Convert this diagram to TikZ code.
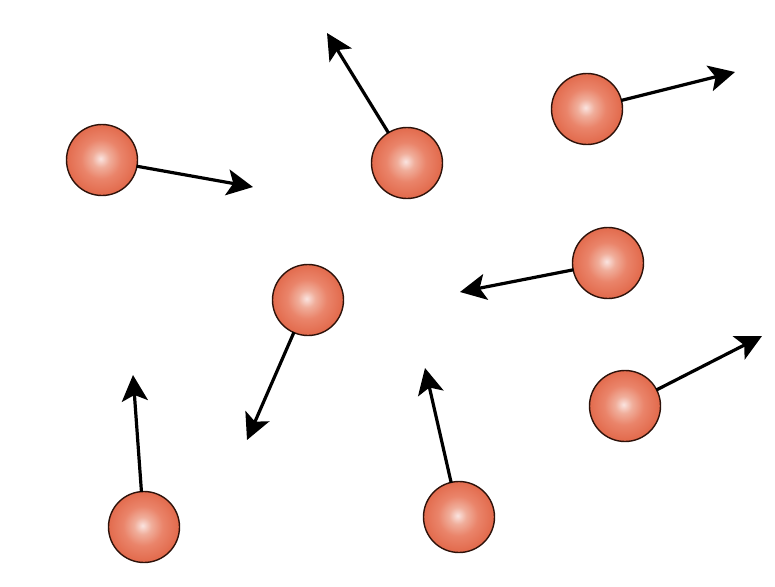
\documentclass[tikz,border=0pt]{standalone}
\usetikzlibrary{arrows.meta}
\definecolor{ballc0}{RGB}{250,228,224}
\definecolor{ballc1}{RGB}{240,174,155}
\definecolor{ballc2}{RGB}{234,132,106}
\definecolor{ballout}{RGB}{226,106,76}
\definecolor{balledge}{RGB}{45,18,10}
\pgfdeclareradialshading{myball}{\pgfpoint{-1bp}{1bp}}{color(0bp)=(ballc0); color(6bp)=(ballc1); color(14bp)=(ballc2); color(25bp)=(ballout); color(50bp)=(ballout)}
\tikzset{
  ball/.style={circle, draw=balledge, line width=1.4pt, minimum size=71pt, inner sep=0pt, shading=myball},
  vec/.style={draw=black, line width=3.2pt, -{Stealth[length=26pt, width=26pt, inset=6pt]}, shorten <=-1pt}
}
\begin{document}
\begin{tikzpicture}[x=1pt, y=-1pt]
\useasboundingbox (0,0) rectangle (775,586);
\node[ball] (b1) at (102,160) {};
\node[ball] (b2) at (407,163) {};
\node[ball] (b3) at (587,109) {};
\node[ball] (b4) at (608,263) {};
\node[ball] (b5) at (308,300) {};
\node[ball] (b6) at (625,406) {};
\node[ball] (b7) at (144,527) {};
\node[ball] (b8) at (459,517) {};
\coordinate (t1) at (253,187);
\coordinate (t2) at (327,33);
\coordinate (t3) at (735,72);
\coordinate (t4) at (460,292);
\coordinate (t5) at (247,440);
\coordinate (t6) at (762,336);
\coordinate (t7) at (133,375);
\coordinate (t8) at (425,368);
\draw[vec] (b1) -- (t1);
\draw[vec] (b2) -- (t2);
\draw[vec] (b3) -- (t3);
\draw[vec] (b4) -- (t4);
\draw[vec] (b5) -- (t5);
\draw[vec] (b6) -- (t6);
\draw[vec] (b7) -- (t7);
\draw[vec] (b8) -- (t8);
\end{tikzpicture}
\end{document}
